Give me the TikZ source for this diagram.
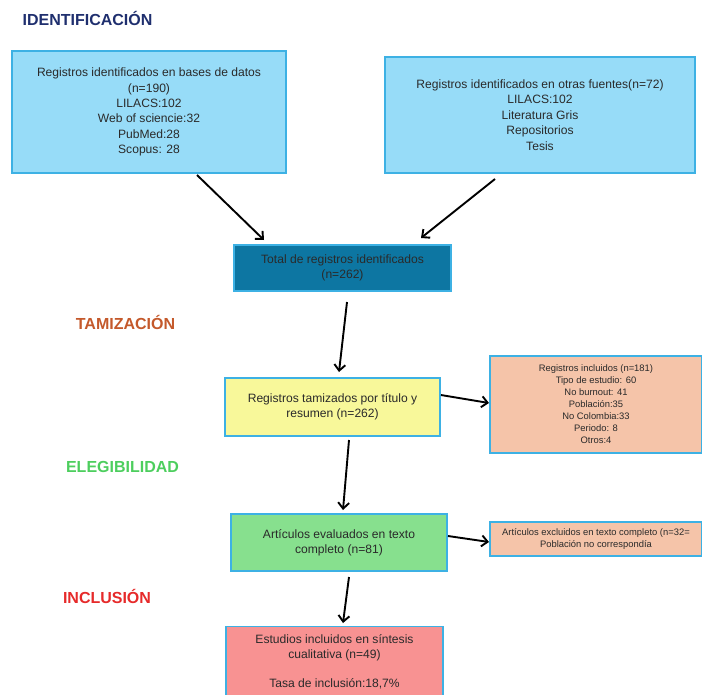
\documentclass[tikz,border=0pt]{standalone}
\usepackage{fontspec}
\setmainfont{Liberation Sans}
\usetikzlibrary{arrows.meta}
\definecolor{bord}{HTML}{3DB1E4}
\definecolor{lblue}{HTML}{97DCF8}
\definecolor{dblue}{HTML}{0D76A2}
\definecolor{lyel}{HTML}{F8F89A}
\definecolor{salm}{HTML}{F5C4A9}
\definecolor{lgreen}{HTML}{87E08E}
\definecolor{lred}{HTML}{F89292}
\definecolor{hnavy}{HTML}{1F2F6E}
\definecolor{horange}{HTML}{C4592B}
\definecolor{hgreen}{HTML}{4DCE5E}
\definecolor{hred}{HTML}{E62A2A}
\definecolor{txt}{HTML}{2A2A2A}
\tikzset{
  boxx/.style={draw=bord, line width=1.3pt, inner sep=2pt, align=center, text=txt,
    font=\fontsize{12.1}{15.4}\selectfont},
  small/.style={boxx, font=\fontsize{9.4}{12}\selectfont},
  head/.style={font=\fontsize{16}{18}\selectfont\bfseries},
  arr/.style={line width=1.9pt, -{Straight Barb[length=6pt,width=11pt,line width=1.9pt]}}
}
\begin{document}
\begin{tikzpicture}[x=1pt,y=-1pt]
\useasboundingbox (0,0) rectangle (702,694);
\clip (0,0) rectangle (702,694);

\node[head, text=hnavy] (h1) at (87.5,18) {IDENTIFICACIÓN};
\node[head, text=horange] (h2) at (125.5,322) {TAMIZACIÓN};
\node[head, text=hgreen] (h3) at (122.5,467) {ELEGIBILIDAD};
\node[head, text=hred] (h4) at (107,596) {INCLUSIÓN};

\node[boxx, fill=lblue, minimum width=274pt, minimum height=122pt] (b1) at (149,112)
  {Registros identificados en bases de datos\\(n=190)\\LILACS:102\\Web of sciencie:32\\PubMed:28\\Scopus: 28};
\node[boxx, fill=lblue, minimum width=310pt, minimum height=116pt] (b2) at (540,115)
  {Registros identificados en otras fuentes(n=72)\\LILACS:102\\Literatura Gris\\Repositorios\\Tesis};
\node[boxx, fill=dblue, minimum width=217pt, minimum height=46pt] (tot) at (342.5,268)
  {Total de registros identificados\\(n=262)};
\node[boxx, fill=lyel, minimum width=215pt, minimum height=58pt] (tam) at (332.5,407)
  {Registros tamizados por título y\\resumen (n=262)};
\node[small, fill=salm, minimum width=212pt, minimum height=97pt] (exc1) at (596,404.5)
  {Registros incluidos (n=181)\\Tipo de estudio: 60\\No burnout: 41\\Población:35\\No Colombia:33\\Periodo: 8\\Otros:4};
\node[boxx, fill=lgreen, minimum width=216pt, minimum height=57pt] (ele) at (339,542.5)
  {Artículos evaluados en texto\\completo (n=81)};
\node[small, fill=salm, minimum width=212pt, minimum height=34pt] (exc2) at (596,539)
  {Artículos excluidos en texto completo (n=32=\\Población no correspondía};
\node[boxx, fill=lred, minimum width=217pt, minimum height=90pt, anchor=north] (inc) at (334.5,626) {};
\node[align=center, text=txt, font=\fontsize{12.1}{15.4}\selectfont, anchor=north] (inct) at (334.5,631)
  {Estudios incluidos en síntesis\\cualitativa (n=49)\\[13pt]Tasa de inclusión:18,7\%};

\coordinate (a1s) at (197,175); \coordinate (a1e) at (264,240);
\coordinate (a2s) at (495,179); \coordinate (a2e) at (421,238);
\coordinate (a3s) at (347,302); \coordinate (a3e) at (339,372);
\coordinate (a4s) at (349,440); \coordinate (a4e) at (343,510);
\coordinate (a5s) at (349,577); \coordinate (a5e) at (343,623);
\coordinate (a6s) at (441,395); \coordinate (a6e) at (489,403);
\coordinate (a7s) at (448,536); \coordinate (a7e) at (489,542);

\draw[arr] (a1s) -- (a1e);
\draw[arr] (a2s) -- (a2e);
\draw[arr] (a3s) -- (a3e);
\draw[arr] (a4s) -- (a4e);
\draw[arr] (a5s) -- (a5e);
\draw[arr] (a6s) -- (a6e);
\draw[arr] (a7s) -- (a7e);
\end{tikzpicture}
\end{document}
